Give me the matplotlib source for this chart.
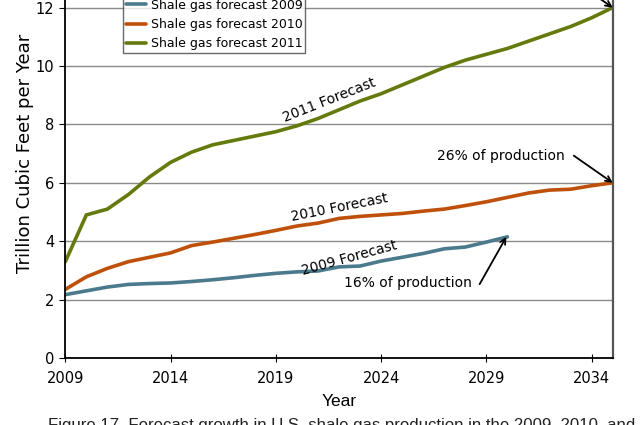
import matplotlib
matplotlib.use("Agg")
import matplotlib.pyplot as plt
import numpy as np

years_2009 = list(range(2009, 2031))
gas_2009 = [2.17, 2.3, 2.43, 2.52, 2.55, 2.57, 2.62, 2.68, 2.75, 2.83, 2.9,
            2.95, 2.98, 3.12, 3.15, 3.32, 3.45, 3.58, 3.74, 3.8, 3.97, 4.15]

years_2010 = list(range(2009, 2036))
gas_2010 = [2.35, 2.78, 3.07, 3.3, 3.45, 3.6, 3.85, 3.97, 4.1, 4.23, 4.37,
            4.52, 4.62, 4.78, 4.85, 4.9, 4.95, 5.03, 5.1, 5.22, 5.35, 5.5,
            5.65, 5.75, 5.78, 5.9, 6.0]

years_2011 = list(range(2009, 2036))
gas_2011 = [3.3, 4.9, 5.1, 5.6, 6.2, 6.7, 7.05, 7.3, 7.45, 7.6, 7.75, 7.95,
            8.2, 8.5, 8.8, 9.05, 9.35, 9.65, 9.95, 10.2, 10.4, 10.6, 10.85,
            11.1, 11.35, 11.65, 12.0]

xticks = [2009, 2014, 2019, 2024, 2029, 2034]
yticks = [0, 2, 4, 6, 8, 10, 12]

c_2009 = "#4A7A8C"
c_2010 = "#BE500A"
c_2011 = "#647A0C"

plt.rcParams['font.family'] = ['DejaVu Sans']

fig = plt.figure(figsize=(6.44, 4.25), dpi=100)
# axes top runs past the figure edge, like the cropped original
ax = fig.add_axes([0.1014, 0.1576, 0.85, 0.962])

ax.plot(years_2009, gas_2009, color=c_2009, lw=2.6, label="Shale gas forecast 2009", solid_capstyle='round')
ax.plot(years_2010, gas_2010, color=c_2010, lw=2.6, label="Shale gas forecast 2010", solid_capstyle='round')
ax.plot(years_2011, gas_2011, color=c_2011, lw=2.6, label="Shale gas forecast 2011", solid_capstyle='round')

ax.set_xlim(2009, 2035)
ax.set_ylim(0, 14)
ax.set_xticks(xticks)
ax.set_yticks(yticks)
ax.tick_params(axis='x', direction='inout', length=6, labelsize=10.5, pad=6)
ax.tick_params(axis='y', direction='out', length=4, labelsize=10.5, pad=4)
ax.yaxis.grid(True, color='#8a8a8a', lw=1)
ax.set_axisbelow(True)

for s in ['left', 'bottom']:
    ax.spines[s].set_color('black')
    ax.spines[s].set_linewidth(1.3)
ax.spines['right'].set_color('#555555')
ax.spines['right'].set_linewidth(1.6)
ax.spines['top'].set_color('#555555')

ax.set_ylabel("Trillion Cubic Feet per Year", fontsize=13, labelpad=1)
ax.set_xlabel("Year", fontsize=12.5, family='Liberation Sans', labelpad=6)

ax.text(2021.56, 8.84, "2011 Forecast", rotation=21.6, ha='center', va='center', fontsize=10)
ax.text(2022.04, 5.14, "2010 Forecast", rotation=11.2, ha='center', va='center', fontsize=10)
ax.text(2022.47, 3.42, "2009 Forecast", rotation=15.4, ha='center', va='center', fontsize=10)

arrow = dict(arrowstyle='->', color='black', lw=1.3, shrinkA=0, shrinkB=0)
ax.text(2028.3, 2.58, "16% of production", fontsize=10, ha='right', va='center')
ax.annotate("", xy=(2029.95, 4.15), xytext=(2028.68, 2.53), arrowprops=arrow)
ax.text(2032.7, 6.93, "26% of production", fontsize=10, ha='right', va='center')
ax.annotate("", xy=(2035, 6.0), xytext=(2033.15, 6.93), arrowprops=arrow,
            annotation_clip=False)
ax.annotate("", xy=(2035, 12.0), xytext=(2034.0, 12.5),
            arrowprops=arrow, annotation_clip=False)

leg = ax.legend(loc='lower left', bbox_to_anchor=(123 / 644, (425 - 53) / 425),
                bbox_transform=fig.transFigure, fontsize=9, frameon=True,
                fancybox=False, edgecolor='#444444', handlelength=1.6,
                labelspacing=0.52, borderpad=0.2, handletextpad=0.45,
                borderaxespad=0)
leg.get_frame().set_linewidth(1)

fig.text(48 / 644, -0.019, "Figure 17. Forecast growth in U.S. shale gas production in the 2009, 2010, and",
         fontsize=12.1, family='Liberation Sans', color='#222222', va='bottom')

fig.savefig("out.png", dpi=100)
